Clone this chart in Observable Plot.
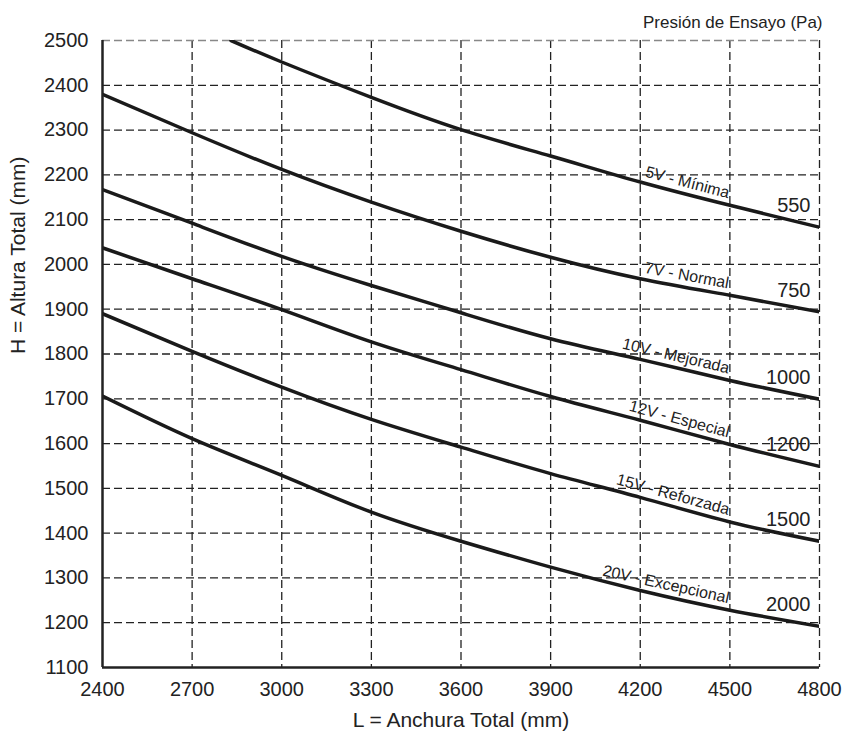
<!DOCTYPE html>
<html>
<head>
<meta charset="utf-8">
<script src="https://cdn.jsdelivr.net/npm/d3@7"></script>
<script src="https://cdn.jsdelivr.net/npm/@observablehq/plot@0.6"></script>
<style>
  html, body { margin: 0; padding: 0; background: #ffffff; }
  #chart svg { display: block; }
</style>
</head>
<body>
<div id="chart"></div>
<script>
// ---- Data ----
const widthTicks = [2400, 2700, 3000, 3300, 3600, 3900, 4200, 4500, 4800];
const heightTicks = [1100, 1200, 1300, 1400, 1500, 1600, 1700, 1800, 1900, 2000, 2100, 2200, 2300, 2400, 2500];
const pressures = [550, 750, 1000, 1200, 1500, 2000];
const classNames = ["5V - Mínima", "7V - Normal", "10V - Mejorada", "12V - Especial", "15V - Reforzada", "20V - Excepcional"];

// 550 Pa curve enters the chart at the top edge
const widths550 = [2830, 3000, 3300, 3600, 3900, 4200, 4500, 4800];
const heights550 = [2500, 2452, 2373, 2301, 2242, 2184, 2132, 2083];
// other curves at every width tick
const heights750 = [2380, 2294, 2212, 2139, 2074, 2016, 1968, 1931, 1894];
const heights1000 = [2167, 2092, 2018, 1953, 1892, 1834, 1788, 1741, 1699];
const heights1200 = [2037, 1968, 1899, 1827, 1765, 1705, 1652, 1598, 1549];
const heights1500 = [1890, 1806, 1726, 1654, 1592, 1533, 1480, 1425, 1382];
const heights2000 = [1706, 1611, 1529, 1447, 1382, 1324, 1272, 1228, 1192];

const xLabel = "L = Anchura Total (mm)";
const yLabel = "H = Altura Total (mm)";
const legendTitle = "Presión de Ensayo (Pa)";

// ---- Build table ----
const seriesWidths = [widths550, widthTicks, widthTicks, widthTicks, widthTicks, widthTicks];
const seriesHeights = [heights550, heights750, heights1000, heights1200, heights1500, heights2000];
const rows = [];
pressures.forEach((p, s) => {
  seriesWidths[s].forEach((L, i) => rows.push({p, L, H: seriesHeights[s][i]}));
});

// ---- Layout ----
const W = 844, HGT = 736;
const mL = 102, mR = 25, mT = 40, mB = 69;
const xDomain = [2400, 4800], yDomain = [1100, 2500];
const xs = d3.scaleLinear(xDomain, [mL, W - mR]);
const ys = d3.scaleLinear(yDomain, [HGT - mB, mT]);

const at = (s, L) => seriesHeights[s][seriesWidths[s].indexOf(L)];
const curveLabels = pressures.map((p, s) => {
  const h1 = at(s, 4200), h2 = at(s, 4500);
  const ang = Math.atan2(ys(h2) - ys(h1), xs(4500) - xs(4200)) * 180 / Math.PI;
  return {p, name: classNames[s], L: 4500, H: h2, angle: ang};
});
const endLabels = pressures.map((p, s) => ({p, L: 4800, H: at(s, 4800)}));

const innerWidths = widthTicks.filter(d => d !== xDomain[0]);
const innerHeights = heightTicks.filter(d => d !== yDomain[0] && d !== yDomain[1]);
const plain = d => String(d);

const chart = Plot.plot({
  width: W,
  height: HGT,
  marginLeft: mL, marginRight: mR, marginTop: mT, marginBottom: mB,
  style: {fontFamily: "'Liberation Sans', Arial, Helvetica, sans-serif", fontSize: "20px", color: "#222", background: "#fff"},
  x: {domain: xDomain, ticks: widthTicks, label: null},
  y: {domain: yDomain, ticks: heightTicks, label: null},
  marks: [
    Plot.ruleX(innerWidths, {stroke: "#222", strokeWidth: 1.3, strokeDasharray: "8,4"}),
    Plot.ruleY(innerHeights, {stroke: "#222", strokeWidth: 1.3, strokeDasharray: "8,4"}),
    Plot.ruleY([yDomain[1]], {stroke: "#888", strokeWidth: 1.3, strokeDasharray: "8,4"}),
    Plot.line(rows, {x: "L", y: "H", z: "p", curve: "natural", stroke: "#1a1a1a", strokeWidth: 3.5, clip: true}),
    Plot.ruleX([xDomain[0]], {stroke: "#222", strokeWidth: 2.5}),
    Plot.ruleY([yDomain[0]], {stroke: "#222", strokeWidth: 2.5}),
    Plot.axisX({ticks: widthTicks, tickFormat: plain, tickSize: 0, tickPadding: 14, fontSize: 20, label: null}),
    Plot.axisY({ticks: heightTicks, tickFormat: plain, tickSize: 0, tickPadding: 14, fontSize: 20, label: null}),
    Plot.text(curveLabels, {x: "L", y: "H", text: "name", rotate: "angle", textAnchor: "end", lineAnchor: "bottom", dx: -2, dy: -7, fontSize: 16, fill: "#222"}),
    Plot.text(endLabels, {x: "L", y: "H", text: d => String(d.p), textAnchor: "end", lineAnchor: "bottom", dx: -9, dy: -15, fontSize: 20, fill: "#222"}),
    Plot.text([xLabel], {frameAnchor: "bottom", lineAnchor: "bottom", dy: 59, fontSize: 21, fill: "#222"}),
    Plot.text([yLabel], {frameAnchor: "left", rotate: -90, lineAnchor: "middle", dx: -84, fontSize: 21, fill: "#222"}),
    Plot.text([legendTitle], {frameAnchor: "top-right", textAnchor: "end", lineAnchor: "bottom", dx: 3, dy: -13, fontSize: 17, fill: "#222"})
  ]
});
document.getElementById("chart").appendChild(chart);
</script>
</body>
</html>
